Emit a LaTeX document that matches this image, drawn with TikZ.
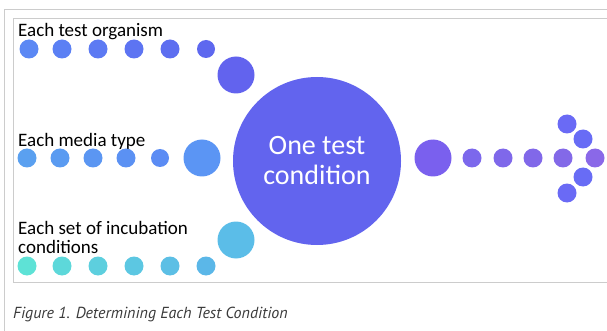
\documentclass[tikz,border=0pt]{standalone}
\usepackage{fontspec}
\setmainfont{Carlito}
\newfontfamily\capfont{PT Sans}
\usepackage{tikz}

\definecolor{framegray}{HTML}{CCCCCC}
\definecolor{hubblue}{HTML}{6264EE}
\definecolor{capgray}{HTML}{3A3A3A}

\begin{document}
\begin{tikzpicture}[x=1pt, y=-1pt,
    dot/.style={circle, inner sep=0pt, minimum size=19pt},
    midball/.style={circle, inner sep=0pt, minimum size=37pt},
    label/.style={anchor=base west, inner sep=0pt, font=\fontsize{19}{19}\selectfont}]
    \useasboundingbox (0,0) rectangle (607,331);
    % frames
    \draw [framegray] (4,331) -- (4,9.5) -- (607,9.5);
    \draw [framegray] (607,18.5) -- (13.5,18.5) -- (13.5,282.5) -- (607,282.5);
    % centre circle
    \node [circle, fill=hubblue, minimum size=168pt, inner sep=0pt, text=white,
        align=center, font=\fontsize{28}{30}\selectfont] (hub) at (317,161) {One test\\condition};
    % test organisms
    \node [label] (orgtxt) at (18,37) {Each test organism};
    \node [dot, fill={rgb,255:red,91;green,136;blue,244}] (org1) at (29,49) {};
    \node [dot, fill={rgb,255:red,91;green,128;blue,244}] (org2) at (62,49) {};
    \node [dot, fill={rgb,255:red,92;green,122;blue,243}] (org3) at (98,49) {};
    \node [dot, fill={rgb,255:red,93;green,116;blue,242}] (org4) at (134,49) {};
    \node [dot, fill={rgb,255:red,93;green,110;blue,240}] (org5) at (170,49) {};
    \node [dot, fill={rgb,255:red,94;green,104;blue,239}, minimum size=18pt] (org6) at (206,49) {};
    \node [midball, fill={rgb,255:red,98;green,99;blue,238}] (org7) at (236,75) {};
    % media types
    \node [label] (medtxt) at (18,147) {Each media type};
    \node [dot, fill={rgb,255:red,90;green,160;blue,240}] (med1) at (27,158) {};
    \node [dot, fill={rgb,255:red,90;green,155;blue,241}] (med2) at (60,158) {};
    \node [dot, fill={rgb,255:red,91;green,150;blue,242}] (med3) at (93,158) {};
    \node [dot, fill={rgb,255:red,91;green,145;blue,243}] (med4) at (126,158) {};
    \node [dot, fill={rgb,255:red,91;green,140;blue,244}, minimum size=18pt] (med5) at (160,158) {};
    \node [midball, fill={rgb,255:red,91;green,149;blue,244}] (med6) at (202,158) {};
    % incubation conditions
    \node [label] (inctxt) at (18,234) {Each set of incubation};
    \node [label] (inctxt2) at (18,253) {conditions};
    \node [dot, fill={rgb,255:red,94;green,226;blue,214}] (inc1) at (27,266) {};
    \node [dot, fill={rgb,255:red,93;green,216;blue,218}] (inc2) at (62,266) {};
    \node [dot, fill={rgb,255:red,93;green,207;blue,222}] (inc3) at (98,266) {};
    \node [dot, fill={rgb,255:red,92;green,199;blue,226}] (inc4) at (134,266) {};
    \node [dot, fill={rgb,255:red,92;green,191;blue,229}] (inc5) at (170,266) {};
    \node [dot, fill={rgb,255:red,91;green,183;blue,232}] (inc6) at (206,266) {};
    \node [midball, fill={rgb,255:red,91;green,189;blue,232}] (inc7) at (236,240) {};
    % outgoing arrow
    \node [midball, fill={rgb,255:red,122;green,96;blue,238}] (out0) at (433,158) {};
    \node [dot, fill={rgb,255:red,124;green,104;blue,236}] (out1) at (472,158) {};
    \node [dot, fill={rgb,255:red,127;green,104;blue,234}] (out2) at (503,158) {};
    \node [dot, fill={rgb,255:red,129;green,104;blue,233}] (out3) at (533,158) {};
    \node [dot, fill={rgb,255:red,131;green,105;blue,232}] (out4) at (563,158) {};
    \node [dot, fill={rgb,255:red,138;green,104;blue,232}] (tip) at (595,158) {};
    \node [dot, fill={rgb,255:red,106;green,106;blue,245}] (up2) at (567,124) {};
    \node [dot, fill={rgb,255:red,104;green,108;blue,245}] (up1) at (583,139) {};
    \node [dot, fill={rgb,255:red,104;green,108;blue,245}] (dn1) at (583,177) {};
    \node [dot, fill={rgb,255:red,106;green,106;blue,245}] (dn2) at (567,193) {};
    % caption
    \node [anchor=base west, inner sep=0pt, text=capgray,
        font=\capfont\itshape\fontsize{16}{19}\selectfont] (caption) at (13,318)
        {Figure 1. Determining Each Test Condition};
\end{tikzpicture}
\end{document}
